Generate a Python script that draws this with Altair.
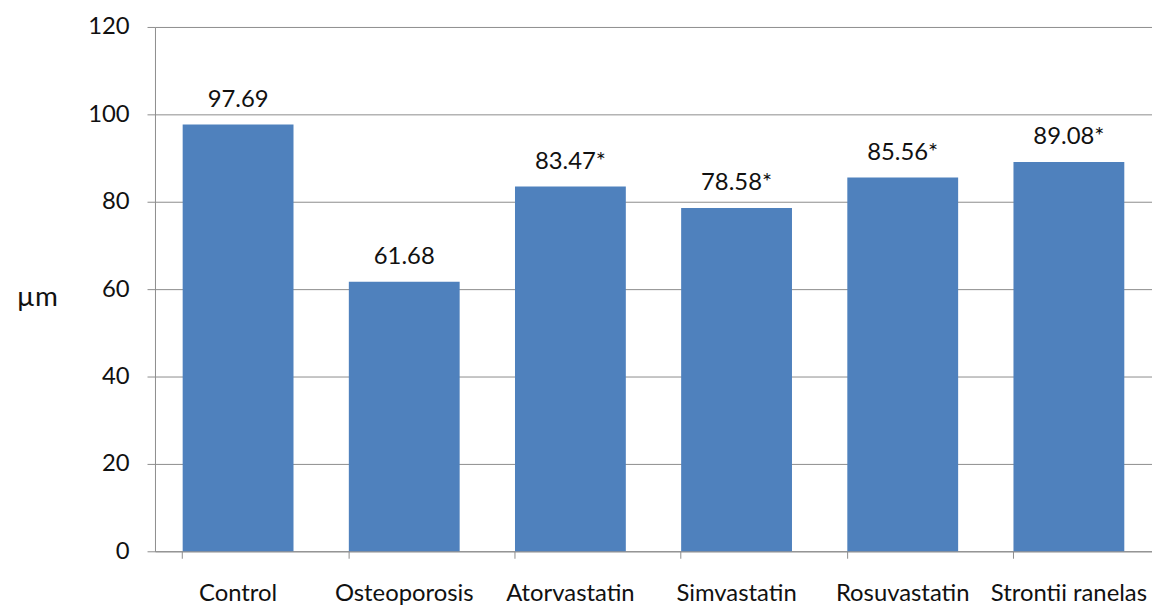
import altair as alt
import pandas as pd

categories = ["Control", "Osteoporosis", "Atorvastatin", "Simvastatin", "Rosuvastatin", "Strontii ranelas"]
values = [97.69, 61.68, 83.47, 78.58, 85.56, 89.08]
labels = ["97.69", "61.68", "83.47*", "78.58*", "85.56*", "89.08*"]

df = pd.DataFrame({"cat": categories, "val": values, "lab": labels})

FONT = "Lato"
GRID = "#8c8c8c"
FS = 24

x = alt.X("cat:N", sort=categories, title=None,
          scale=alt.Scale(paddingInner=0.333, paddingOuter=0.1667),
          axis=alt.Axis(labelAngle=0, labelFont=FONT, labelFontSize=FS, labelColor="#111",
                        labelPadding=24, tickColor=GRID, tickSize=7, domainColor=GRID,
                        bandPosition=0, labelOverlap=False, labelLimit=400))

bars = alt.Chart(df).mark_bar(color="#4F81BD").encode(
    x=x,
    y=alt.Y("val:Q", title="µm", scale=alt.Scale(domain=[0, 120]),
            axis=alt.Axis(values=[0, 20, 40, 60, 80, 100, 120], grid=True, gridColor=GRID,
                          domainColor=GRID, tickColor=GRID, tickSize=8,
                          labelFont=FONT, labelFontSize=FS, labelColor="#111", labelPadding=18,
                          titleAngle=0, titleFont=FONT, titleFontSize=28, titleFontWeight="normal",
                          titleColor="#111", titleX=-119, titleY=272, titleAlign="center",
                          titleBaseline="middle")),
)

text = alt.Chart(df).mark_text(font=FONT, fontSize=FS, color="#111", baseline="alphabetic", dy=-18).encode(
    x=alt.X("cat:N", sort=categories),
    y="val:Q",
    text="lab:N",
)

chart = (bars + text).properties(
    width=1004, height=528,
    autosize=alt.AutoSizeParams(type="none"),
    padding={"left": 148, "top": 17, "right": 0, "bottom": 55},
).configure_view(stroke=None).configure_axis(gridWidth=1, domainWidth=1)

chart.save("out.html", embed_options={"renderer": "svg", "actions": False})
